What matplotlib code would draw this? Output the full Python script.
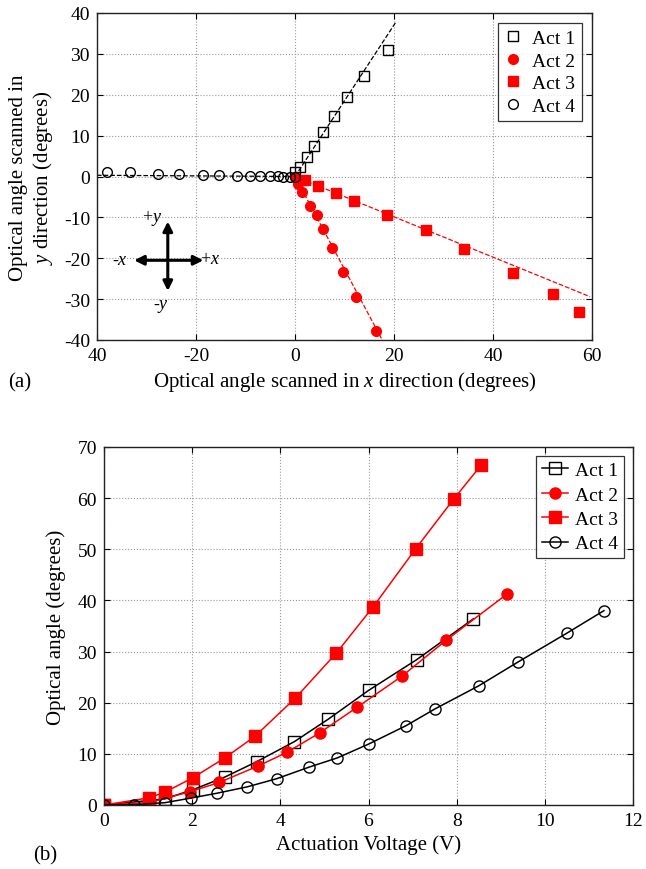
import matplotlib
matplotlib.use('Agg')
import matplotlib.pyplot as plt
import numpy as np

plt.rcParams['font.family'] = ['Liberation Serif', 'DejaVu Serif']
plt.rcParams['mathtext.fontset'] = 'custom'
plt.rcParams['mathtext.rm'] = 'Liberation Serif'
plt.rcParams['mathtext.it'] = 'Liberation Serif:italic'
plt.rcParams['axes.unicode_minus'] = False

# (a) scan directions of each actuator
a1_x = [0.1, 1.0, 2.4, 3.9, 5.7, 7.8, 10.5, 13.9, 18.7]
a1_y = [1.0, 2.4, 4.7, 7.4, 10.8, 14.7, 19.4, 24.6, 31.0]
a2_x = [0.0, 0.7, 1.4, 3.1, 4.5, 5.7, 7.5, 9.6, 12.3, 16.3]
a2_y = [0.0, -1.8, -3.9, -7.2, -9.5, -12.8, -17.6, -23.4, -29.5, -37.8]
a3_x = [2.0, 4.6, 8.3, 11.9, 18.5, 26.5, 34.2, 44.1, 52.1, 57.4]
a3_y = [-0.8, -2.3, -4.0, -6.0, -9.3, -13.2, -17.7, -23.6, -28.8, -33.2]
a4_x = [-37.9, -33.3, -27.7, -23.4, -18.5, -15.3, -11.8, -9.1, -7.1, -5.1, -3.5, -2.4, -1.1, 0.0]
a4_y = [1.2, 1.2, 0.5, 0.5, 0.3, 0.3, 0.1, 0.1, 0.1, 0.1, 0.1, 0.0, 0.0, 0.0]

# linear fits (end points)
fit1_x, fit1_y = [0, 20.5], [0, 38.0]
fit2_x, fit2_y = [0, 17.8], [0, -40.4]
fit3_x, fit3_y = [0, 59.6], [0, -29.4]
fit4_x, fit4_y = [-40, 0], [0.3, 0]

# (b) optical angle vs voltage
v1 = [0, 1.38, 2.02, 2.75, 3.47, 4.32, 5.09, 6.0, 7.09, 8.38]
t1 = [0, 1.2, 3.0, 5.5, 8.5, 12.4, 16.8, 22.4, 28.4, 36.4]
v2 = [0, 1.04, 1.95, 2.61, 3.49, 4.15, 4.89, 5.74, 6.76, 7.76, 9.15]
t2 = [0, 0.5, 2.6, 4.4, 7.6, 10.3, 14.1, 19.1, 25.2, 32.2, 41.3]
v3 = [0, 1.02, 1.38, 2.01, 2.74, 3.42, 4.34, 5.27, 6.11, 7.07, 7.94, 8.56]
t3 = [0, 1.4, 2.5, 5.3, 9.2, 13.4, 20.9, 29.7, 38.8, 50.1, 59.9, 66.5]
v4 = [0, 0.69, 1.38, 1.97, 2.56, 3.25, 3.92, 4.65, 5.29, 6.0, 6.85, 7.51, 8.5, 9.38, 10.5, 11.34]
t4 = [0, 0.06, 0.45, 1.35, 2.3, 3.55, 5.15, 7.4, 9.2, 11.9, 15.5, 18.8, 23.3, 27.9, 33.6, 38.0]

fig = plt.figure(figsize=(6.46, 8.70), dpi=100)

def style(ax):
    ax.tick_params(direction='in', top=True, right=True, labelsize=14, length=4, pad=5)
    ax.grid(True, linestyle=':', color='#999999', linewidth=0.8)
    for s in ax.spines.values():
        s.set_linewidth(1.0)
        s.set_color('#222222')

# ---- (a)
ax = fig.add_axes([97/646, 1-341/870, 495/646, 327/870])
ax.plot(fit1_x, fit1_y, '--', color='k', lw=0.9)
ax.plot(fit4_x, fit4_y, '--', color='k', lw=0.9)
ax.plot(fit2_x, fit2_y, '--', color='red', lw=0.9)
ax.plot(fit3_x, fit3_y, '--', color='red', lw=0.9)
ax.plot(a1_x, a1_y, 's', mfc='none', mec='k', ms=7, mew=1.0, label='Act 1')
ax.plot(a2_x, a2_y, 'o', color='red', ms=7, label='Act 2')
ax.plot(a3_x, a3_y, 's', color='red', ms=7, label='Act 3')
ax.plot(a4_x, a4_y, 'o', mfc='none', mec='k', ms=7, mew=1.0, label='Act 4')
ax.set_xlim(-40, 60)
ax.set_ylim(-40, 40)
ax.set_xticks([-40, -20, 0, 20, 40, 60])
ax.set_xticklabels(['40', '-20', '0', '20', '40', '60'])
ax.set_yticks(np.arange(-40, 41, 10))
style(ax)
ax.set_xlabel('Optical angle scanned in $x$ direction (degrees)', fontsize=15, labelpad=4)
ax.set_ylabel('Optical angle scanned in\n$y$ direction (degrees)', fontsize=15, labelpad=6)
ax.legend(loc='upper right', fontsize=14, frameon=True, fancybox=False, edgecolor='k',
          handlelength=0.8, handletextpad=0.6, borderpad=0.35, labelspacing=0.25,
          borderaxespad=0.5).get_frame().set_linewidth(0.9)

# direction cross
arrow = dict(arrowstyle='<|-|>', lw=2.2, color='k', mutation_scale=14, shrinkA=0, shrinkB=0)
ax.annotate('', xy=(-32.5, -20.5), xytext=(-18.5, -20.5), arrowprops=arrow)
ax.annotate('', xy=(-25.7, -11.0), xytext=(-25.7, -28.0), arrowprops=arrow)
ax.text(-28.9, -9.9, '+$y$', fontsize=13, ha='center', va='center')
ax.text(-35.3, -20.3, '-$x$', fontsize=13, ha='center', va='center')
ax.text(-17.2, -20.0, '+$x$', fontsize=13, ha='center', va='center')
ax.text(-27.0, -31.5, '-$y$', fontsize=13, ha='center', va='center')
fig.text(8/646, 1-383/870, '(a)', fontsize=15, va='center')

# ---- (b)
bx = fig.add_axes([104/646, 1-806/870, 529/646, 358/870])
bx.plot(v1, t1, '-s', color='k', mfc='none', ms=8, lw=1.1, mew=1.0, label='Act 1')
bx.plot(v2, t2, '-o', color='red', ms=8, lw=1.1, label='Act 2')
bx.plot(v3, t3, '-s', color='red', ms=8, lw=1.1, label='Act 3')
bx.plot(v4, t4, '-o', color='k', mfc='none', ms=8, lw=1.1, mew=1.0, label='Act 4')
bx.set_xlim(0, 12)
bx.set_ylim(0, 70)
bx.set_xticks(np.arange(0, 13, 2))
bx.set_yticks(np.arange(0, 71, 10))
style(bx)
bx.set_xlabel('Actuation Voltage (V)', fontsize=15, labelpad=4)
bx.set_ylabel('Optical angle (degrees)', fontsize=15, labelpad=8)
bx.legend(loc='upper right', fontsize=14, frameon=True, fancybox=False, edgecolor='k',
          handlelength=1.3, handletextpad=0.4, borderpad=0.3, labelspacing=0.35,
          borderaxespad=0.45).get_frame().set_linewidth(0.9)
fig.text(33/646, 1-856/870, '(b)', fontsize=15, va='center')

fig.savefig('out.png', dpi=100)
